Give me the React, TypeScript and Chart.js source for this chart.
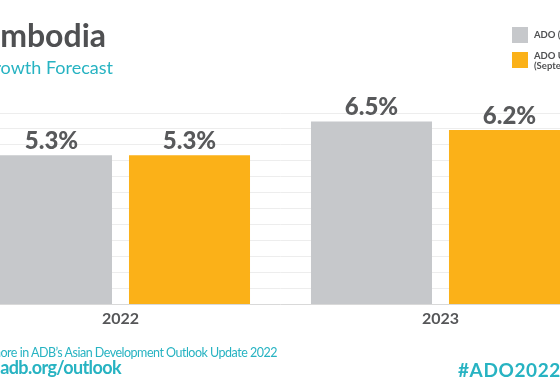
import React, { useEffect, useRef } from "react";
import { Chart, registerables } from "chart.js";

Chart.register(...registerables);

const categories = ["2022", "2023"];
const adoApril = [5.3, 6.5];
const adoUpdate = [5.3, 6.2];
const seriesNames = ["ADO (April 2022)", "ADO Update (September 2022)"];
const legendLines = [["ADO (April 2022)"], ["ADO Update", "(September 2022)"]];
const seriesColors = ["#c6c8cb", "#fbb118"];
const yMin = 0;
const yMax = 6.8;
const gridStep = yMax / 12;

const DARK = "#4f5052";
const TEAL = "#27b3c2";
const FONT = "Lato, 'Open Sans', sans-serif";

const labelPlugin = {
  id: "barLabels",
  afterDatasetsDraw(chart: any) {
    const ctx = chart.ctx;
    ctx.save();
    ctx.fillStyle = "#58595b";
    ctx.textAlign = "center";
    ctx.textBaseline = "alphabetic";
    ctx.font = `900 24px ${FONT}`;
    chart.data.datasets.forEach((ds: any, di: number) => {
      const meta = chart.getDatasetMeta(di);
      meta.data.forEach((bar: any, i: number) => {
        ctx.fillText(`${ds.data[i].toFixed(1)}%`, bar.x, bar.y - 6);
      });
    });
    const xs = chart.scales.x;
    ctx.font = `bold 16px ${FONT}`;
    ctx.fillStyle = "#555658";
    categories.forEach((c, i) => {
      ctx.fillText(c, xs.getPixelForValue(i), chart.chartArea.bottom + 19.5);
    });
    ctx.restore();
  },
};

function ChartCanvas() {
  const ref = useRef<HTMLCanvasElement | null>(null);
  useEffect(() => {
    if (!ref.current) return;
    const chart = new Chart(ref.current, {
      type: "bar",
      data: {
        labels: categories,
        datasets: [
          { label: seriesNames[0], data: adoApril, backgroundColor: seriesColors[0] },
          { label: seriesNames[1], data: adoUpdate, backgroundColor: seriesColors[1] },
        ],
      },
      options: {
        animation: false,
        responsive: false,
        devicePixelRatio: 1,
        layout: { padding: { left: 20.5, right: 39.5, top: 113, bottom: 87.5 } },
        datasets: { bar: { categoryPercentage: 0.8625, barPercentage: 0.877 } },
        plugins: { legend: { display: false }, title: { display: false }, tooltip: { enabled: false } },
        scales: {
          x: { display: false },
          y: {
            min: yMin,
            max: yMax,
            border: { display: false },
            grid: {
              drawTicks: false,
              color: (c: any) => (c.tick && c.tick.value === 0 ? "#d9d9d9" : "#ededed"),
              lineWidth: 1,
            },
            ticks: { display: false, stepSize: gridStep },
          },
        },
      },
      plugins: [labelPlugin],
    } as any);
    return () => chart.destroy();
  }, []);
  return (
    <canvas
      ref={ref}
      width={700}
      height={392}
      style={{ position: "absolute", left: -60, top: 0, width: 700, height: 392 }}
    />
  );
}

export default function App() {
  const txt = (extra: React.CSSProperties): React.CSSProperties => ({
    position: "absolute",
    whiteSpace: "nowrap",
    fontFamily: FONT,
    lineHeight: 1,
    ...extra,
  });
  return (
    <div
      style={{
        position: "fixed",
        left: 0,
        top: 0,
        width: 560,
        height: 392,
        overflow: "hidden",
        background: "#ffffff",
      }}
    >
      <ChartCanvas />
      <div style={txt({ right: 454, top: 18.6, fontSize: 32, fontWeight: 700, color: DARK })}>Cambodia</div>
      <div style={txt({ right: 447, top: 58, fontSize: 18, fontWeight: 400, color: TEAL })}>GDP Growth Forecast</div>
      {legendLines.map((lines, i) => (
        <React.Fragment key={i}>
          <div
            style={{
              position: "absolute",
              left: 512,
              top: i === 0 ? 27 : 51.5,
              width: 16,
              height: 16,
              background: seriesColors[i],
            }}
          />
          <div
            style={txt({
              left: 534,
              top: i === 0 ? 30 : 51,
              fontSize: 9.5,
              fontWeight: 700,
              color: DARK,
              lineHeight: "9.5px",
            })}
          >
            {lines.map((l, j) => (
              <div key={j}>{l}</div>
            ))}
          </div>
        </React.Fragment>
      ))}
      <div style={txt({ right: 283, top: 346.5, fontSize: 12.5, fontWeight: 400, color: TEAL, letterSpacing: -0.5 })}>
        Learn more in ADB’s Asian Development Outlook Update 2022
      </div>
      <div style={txt({ right: 439, top: 358, fontSize: 18, fontWeight: 700, color: TEAL, letterSpacing: -0.6 })}>
        www.adb.org/outlook
      </div>
      <div style={txt({ left: 458, top: 360, fontSize: 19, fontWeight: 700, color: TEAL, letterSpacing: 0.6 })}>
        #ADO2022
      </div>
    </div>
  );
}
